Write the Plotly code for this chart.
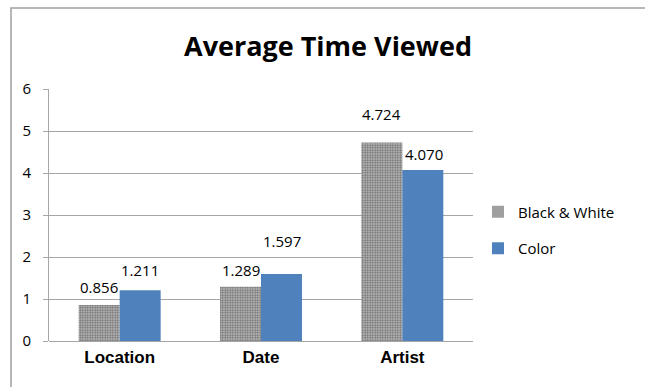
import plotly.graph_objects as go

categories = ["Location", "Date", "Artist"]
bw_values = [0.856, 1.289, 4.724]
color_values = [1.211, 1.597, 4.070]
bw_labels = ["0.856", "1.289", "4.724"]
color_labels = ["1.211", "1.597", "4.070"]
y_ticks = [0, 1, 2, 3, 4, 5, 6]

# label offsets in pixels (x shift, y shift) as placed in the reference
bw_label_offsets = [(0, 18), (0, 17), (0, 29)]
color_label_offsets = [(0, 20), (0, 33), (1, 16)]

W, H = 645, 387
L, R, T, B = 49, 172, 89, 46
LABEL_FONT = "Open Sans, Liberation Sans, sans-serif"

fig = go.Figure()
fig.add_trace(go.Bar(
    x=categories, y=bw_values, name="Black & White", legendgroup="a",
    marker=dict(color="#9a9a9a", line=dict(width=0),
                pattern=dict(shape=".", fgcolor="#707070", bgcolor="#c4c4c4",
                             size=2.5, solidity=0.5, fillmode="replace")),
))
fig.add_trace(go.Bar(
    x=categories, y=color_values, name="Color", legendgroup="b",
    marker=dict(color="#4f81bd", line=dict(width=0)),
))

annotations = []
for i, c in enumerate(categories):
    for vals, labs, offs, side in ((bw_values, bw_labels, bw_label_offsets, -1),
                                   (color_values, color_labels, color_label_offsets, 1)):
        annotations.append(dict(
            x=c, y=vals[i], xref="x", yref="y", text=labs[i], showarrow=False,
            xshift=side * 20.5 + offs[i][0], yshift=offs[i][1],
            font=dict(family=LABEL_FONT, size=15, color="#000"),
        ))

fig.update_layout(
    width=W, height=H,
    margin=dict(l=L, r=R, t=T, b=B, autoexpand=False),
    paper_bgcolor="white", plot_bgcolor="white",
    barmode="group", bargap=0.42, bargroupgap=0,
    title=dict(text="<b>Average Time Viewed</b>", x=328 / W, xref="container", xanchor="center",
               y=1 - 47 / H, yref="container", yanchor="middle",
               font=dict(family="Open Sans, Lato, sans-serif", size=27, color="#000")),
    legend=dict(xref="container", x=478 / W, xanchor="left",
                yref="container", y=1 - 230 / H, yanchor="middle",
                font=dict(family=LABEL_FONT, size=15, color="#000"),
                itemwidth=30, tracegroupgap=14, traceorder="grouped",
                bgcolor="rgba(0,0,0,0)"),
    annotations=annotations,
    showlegend=True,
)
fig.update_xaxes(
    showgrid=False, showline=False, ticks="", ticklabelstandoff=4,
    tickfont=dict(family="Liberation Sans, Arial, sans-serif", size=17, color="#000", weight="bold"),
)
fig.update_yaxes(
    range=[0, 6], tickvals=y_ticks, showgrid=True, gridcolor="#a6a6a6", gridwidth=1,
    showline=True, linecolor="#a6a6a6", linewidth=1,
    ticks="outside", ticklen=5, tickcolor="#a6a6a6", ticklabelstandoff=9,
    zeroline=True, zerolinecolor="#a6a6a6", zerolinewidth=1,
    tickfont=dict(family=LABEL_FONT, size=15, color="#000"),
)

# outer chart border
fig.add_shape(type="rect", xref="paper", yref="paper",
              xsizemode="pixel", ysizemode="pixel", xanchor=0, yanchor=0,
              x0=11 - L, x1=W - L + 20, y0=-(H - 341) - 30, y1=341 - 8,
              line=dict(color="#a0a0a0", width=1.5), fillcolor="rgba(0,0,0,0)", layer="below")

fig.write_html("out.html")
